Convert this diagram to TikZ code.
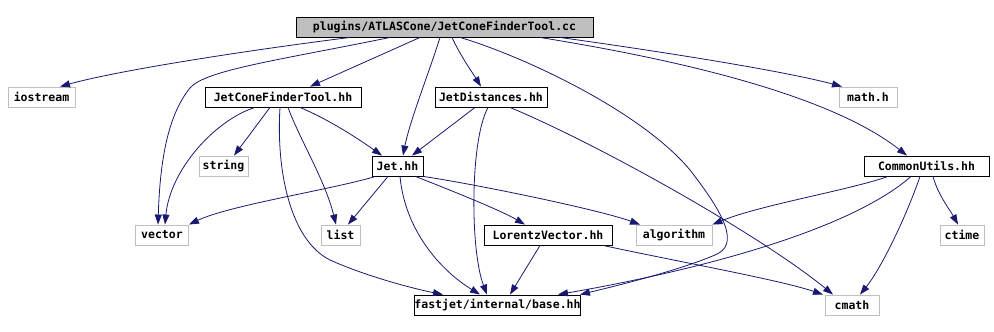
\documentclass[tikz,border=0pt]{standalone}
\usepackage{fontspec}
\setmonofont{DejaVu Sans Mono}
\usepackage{xcolor}
\usetikzlibrary{arrows.meta}
\definecolor{incblue}{HTML}{191970}
\definecolor{extgray}{HTML}{BFBFBF}

\begin{document}
\begin{tikzpicture}[
  x=1pt, y=-1pt,
  hdr/.style={draw, line width=0.9pt, inner sep=0pt, minimum height=20pt, font=\fontsize{11.5}{13}\selectfont\ttfamily\bfseries},
  ext/.style={hdr, draw=extgray},
  top/.style={hdr, fill=extgray},
  incl/.style={draw=incblue, line width=0.8pt, -{Triangle[length=10pt,width=7pt]}}
]
  \useasboundingbox (0,0) rectangle (994,332);

  \node[top, minimum width=297pt] (cc) at (444.5,27) {plugins/ATLASCone/JetConeFinderTool.cc};
  \node[ext, minimum width=67pt] (iostream) at (41.5,97) {iostream};
  \node[hdr, minimum width=156pt] (conefinder) at (283,97) {JetConeFinderTool.hh};
  \node[hdr, minimum width=112pt] (distances) at (491,97) {JetDistances.hh};
  \node[ext, minimum width=58pt] (mathh) at (868,97) {math.h};
  \node[ext, minimum width=49pt] (stringh) at (223.5,166) {string};
  \node[hdr, minimum width=51pt] (jet) at (397.5,166) {Jet.hh};
  \node[hdr, minimum width=125pt] (commonutils) at (926.5,166) {CommonUtils.hh};
  \node[ext, minimum width=53pt] (vector) at (162,235) {vector};
  \node[ext, minimum width=39pt] (list) at (340.5,235) {list};
  \node[hdr, minimum width=128pt] (lorentz) at (548,235) {LorentzVector.hh};
  \node[ext, minimum width=76pt] (algorithm) at (674,235) {algorithm};
  \node[ext, minimum width=44pt] (ctime) at (962,235) {ctime};
  \node[hdr, minimum width=163pt] (base) at (497.5,305) {fastjet/internal/base.hh};
  \node[ext, minimum width=54pt] (cmath) at (852,305) {cmath};

  % includes of the .cc file
  \draw[incl] ([xshift=-94.5pt]cc.south) .. controls (250,50) and (120,70) .. ([xshift=18.5pt]iostream.north);
  \draw[incl] ([xshift=-24.5pt]cc.south) -- ([xshift=27pt]conefinder.north);
  \draw[incl] ([xshift=-54.5pt]cc.south) .. controls (280,60) and (205,70) .. (190,88)
    .. controls (168,115) and (160,160) .. ([xshift=-4pt]vector.north);
  \draw[incl] ([xshift=-4.5pt]cc.south) .. controls (430,70) and (410,120) .. ([xshift=5.5pt]jet.north);
  \draw[incl] ([xshift=7.5pt]cc.south) .. controls (460,55) and (472,72) .. ([xshift=-10pt]distances.north);
  \draw[incl] ([xshift=15.5pt]cc.south) .. controls (520,55) and (640,110) .. (690,170)
    .. controls (725,215) and (740,245) .. (715,255) .. controls (680,270) and (620,285) .. ([xshift=82.5pt]base.north);
  \draw[incl] ([xshift=115.5pt]cc.south) .. controls (650,50) and (780,70) .. ([xshift=-26pt]mathh.north);
  \draw[incl] ([xshift=95.5pt]cc.south) .. controls (680,60) and (830,95) .. ([xshift=-19.5pt]commonutils.north);

  % JetConeFinderTool.hh
  \draw[incl] ([xshift=-13pt]conefinder.south) -- ([xshift=10.5pt]stringh.north);
  \draw[incl] ([xshift=-28pt]conefinder.south) .. controls (215,120) and (170,170) .. ([xshift=3pt]vector.north);
  \draw[incl] ([xshift=5pt]conefinder.south) .. controls (300,140) and (325,180) .. ([xshift=-4.5pt]list.north);
  \draw[incl] ([xshift=-3pt]conefinder.south) .. controls (276,170) and (290,240) .. (330,260)
    .. controls (370,278) and (420,290) .. ([xshift=-54.5pt]base.north);
  \draw[incl] ([xshift=17pt]conefinder.south) .. controls (330,120) and (360,140) .. ([xshift=-15.5pt]jet.north);

  % JetDistances.hh
  \draw[incl] ([xshift=-16pt]distances.south) -- ([xshift=14.5pt]jet.north);
  \draw[incl] ([xshift=-3pt]distances.south) .. controls (470,140) and (470,250) .. ([xshift=-10.5pt]base.north);
  \draw[incl] ([xshift=19pt]distances.south) .. controls (600,145) and (760,235) .. ([xshift=-19pt]cmath.north);

  % Jet.hh
  \draw[incl] ([xshift=-22pt]jet.south) .. controls (330,190) and (230,205) .. (vector.north east);
  \draw[incl] ([xshift=-9.5pt]jet.south) -- ([xshift=7.5pt]list.north);
  \draw[incl] ([xshift=18pt]jet.south) .. controls (450,190) and (500,210) .. ([xshift=-23pt]lorentz.north);
  \draw[incl] (jet.south east) .. controls (480,185) and (600,210) .. ([xshift=-34pt]algorithm.north);
  \draw[incl] ([xshift=2.5pt]jet.south) .. controls (405,230) and (440,270) .. ([xshift=-17.5pt]base.north);

  % CommonUtils.hh
  \draw[incl] ([xshift=-38.5pt]commonutils.south) .. controls (850,190) and (760,205) .. (algorithm.north east);
  \draw[incl] ([xshift=-15.5pt]commonutils.south) .. controls (850,230) and (700,270) .. ([xshift=60.5pt]base.north);
  \draw[incl] ([xshift=-6.5pt]commonutils.south) .. controls (905,220) and (880,270) .. ([xshift=8pt]cmath.north);
  \draw[incl] ([xshift=6.5pt]commonutils.south) .. controls (938,195) and (950,210) .. ([xshift=-4pt]ctime.north);

  % LorentzVector.hh
  \draw[incl] ([xshift=-8pt]lorentz.south) -- ([xshift=12.5pt]base.north);
  \draw[incl] ([xshift=55pt]lorentz.south) .. controls (680,262) and (780,280) .. ([xshift=-29pt]cmath.north);
\end{tikzpicture}
\end{document}
